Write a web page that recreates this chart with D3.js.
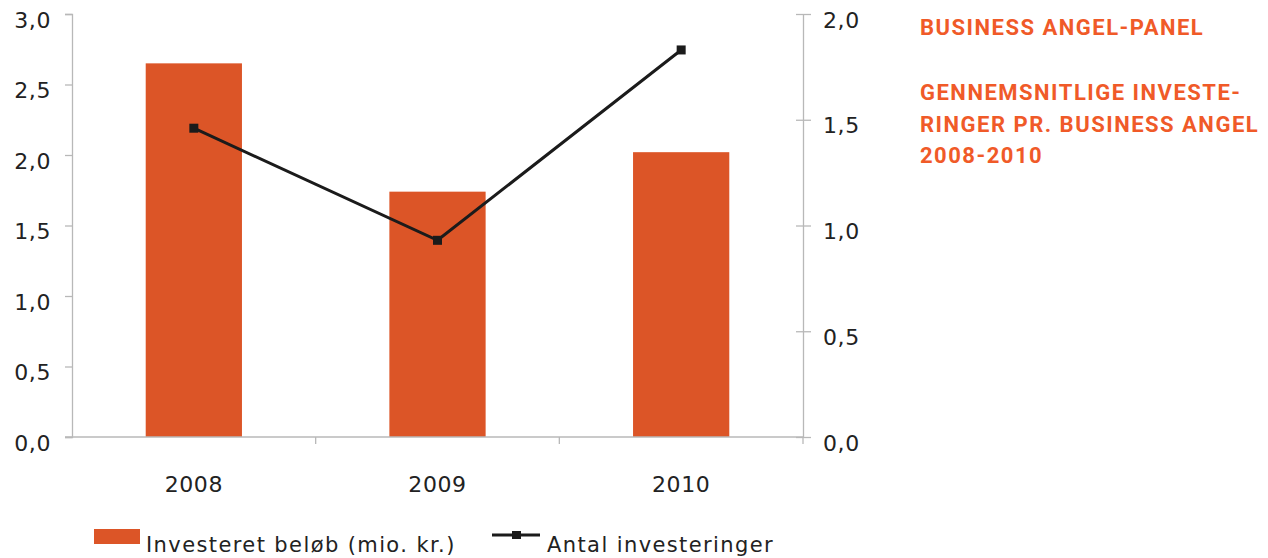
<!DOCTYPE html>
<html>
<head>
<meta charset="utf-8">
<script src="https://cdn.jsdelivr.net/npm/d3@7"></script>
<style>
  html, body { margin: 0; padding: 0; background: #fff; }
  svg { display: block; }
</style>
</head>
<body>
<svg id="chart" width="1268" height="558"></svg>
<script>
// Years on the x axis
const years = ["2008", "2009", "2010"];
// Invested amount per business angel (mio. kr.) – left axis
const invested = [2.65, 1.74, 2.02];
// Number of investments per business angel – right axis
const investments = [1.46, 0.93, 1.83];
// Tick values for both axes
const leftTicks = [0, 0.5, 1, 1.5, 2, 2.5, 3];
const rightTicks = [0, 0.5, 1, 1.5, 2];
// Legend labels and heading lines
const legendLabels = ["Investeret beløb (mio. kr.)", "Antal investeringer"];
const headingLines = ["BUSINESS ANGEL-PANEL", "", "GENNEMSNITLIGE INVESTE-", "RINGER PR. BUSINESS ANGEL", "2008-2010"];

const svg = d3.select("#chart");
const plot = { left: 72, right: 803, top: 14, bottom: 437 };
const barColor = "#dc5527";
const axisColor = "#b8b8b8";
const textColor = "#222";
const fmt = v => d3.format(".1f")(v).replace(".", ",");

const x = d3.scaleBand().domain(years).range([plot.left, plot.right]).padding(0);
const yL = d3.scaleLinear().domain([0, 3]).range([plot.bottom, plot.top]);
const yR = d3.scaleLinear().domain([0, 2]).range([plot.bottom, plot.top]);
const barW = x.bandwidth() * 0.395;

// Bars
svg.append("g").selectAll("rect").data(years).join("rect")
  .attr("x", d => x(d) + x.bandwidth() / 2 - barW / 2)
  .attr("y", (d, i) => yL(invested[i]))
  .attr("width", barW)
  .attr("height", (d, i) => yL(0) - yL(invested[i]))
  .attr("fill", barColor);

// Axes
function styleAxis(g) {
  g.selectAll(".domain").attr("stroke", axisColor).attr("stroke-width", 1.3);
  g.selectAll(".tick line").attr("stroke", axisColor).attr("stroke-width", 1.3);
  g.selectAll("text").attr("fill", textColor)
    .attr("font-family", "DejaVu Sans, Verdana, sans-serif").attr("font-size", 22)
    .attr("letter-spacing", 0.6);
}

svg.append("g").attr("transform", `translate(${plot.left},0)`)
  .call(d3.axisLeft(yL).tickValues(leftTicks).tickFormat(fmt).tickSize(7).tickSizeOuter(7).tickPadding(14))
  .call(styleAxis)
  .call(g => g.selectAll("text").attr("dy", "0.6em"));

svg.append("g").attr("transform", `translate(${plot.right},0)`)
  .call(d3.axisRight(yR).tickValues(rightTicks).tickFormat(fmt).tickSize(0).tickPadding(20))
  .call(styleAxis)
  .call(g => g.selectAll(".tick line").attr("x1", -7).attr("x2", 8))
  .call(g => g.selectAll("text").attr("dy", "0.6em"));

// x axis: ticks at the band boundaries
const xb = svg.append("g").attr("transform", `translate(0,${plot.bottom})`);
xb.append("line").attr("x1", plot.left - 7).attr("x2", plot.right)
  .attr("stroke", axisColor).attr("stroke-width", 1.3);
xb.selectAll("line.b").data(years.slice(1).concat([null])).join("line").attr("class", "b")
  .attr("x1", d => d ? x(d) : plot.right).attr("x2", d => d ? x(d) : plot.right)
  .attr("y1", 0).attr("y2", 7)
  .attr("stroke", axisColor).attr("stroke-width", 1.3);
xb.selectAll("text").data(years).join("text")
  .attr("x", d => x(d) + x.bandwidth() / 2)
  .attr("y", 55)
  .attr("text-anchor", "middle")
  .attr("fill", textColor)
  .attr("font-family", "DejaVu Sans, Verdana, sans-serif").attr("font-size", 22)
  .attr("letter-spacing", 0.6)
  .text(d => d);

// Line series on the right axis
const line = d3.line().x((d, i) => x(years[i]) + x.bandwidth() / 2).y(d => yR(d));
svg.append("path").datum(investments)
  .attr("d", line).attr("fill", "none").attr("stroke", "#1b1b1b").attr("stroke-width", 3);
svg.append("g").selectAll("rect").data(investments).join("rect")
  .attr("x", (d, i) => x(years[i]) + x.bandwidth() / 2 - 4.5)
  .attr("y", d => yR(d) - 4.5)
  .attr("width", 9).attr("height", 9).attr("fill", "#1b1b1b");

// Legend
const lg = svg.append("g");
lg.append("rect").attr("x", 94).attr("y", 529).attr("width", 46).attr("height", 15).attr("fill", barColor);
lg.append("text").attr("x", 146).attr("y", 552).text(legendLabels[0]);
lg.append("line").attr("x1", 492).attr("x2", 540).attr("y1", 535).attr("y2", 535)
  .attr("stroke", "#1b1b1b").attr("stroke-width", 3);
lg.append("rect").attr("x", 512).attr("y", 531).attr("width", 9).attr("height", 8).attr("fill", "#1b1b1b");
lg.append("text").attr("x", 547).attr("y", 552).text(legendLabels[1]);
lg.selectAll("text").attr("fill", textColor)
  .attr("font-family", "DejaVu Sans, Verdana, sans-serif").attr("font-size", 21)
  .attr("letter-spacing", 1.4);

// Heading on the right
svg.append("g").selectAll("text").data(headingLines).join("text")
  .attr("x", 920)
  .attr("y", (d, i) => [35, 0, 100, 132, 163][i])
  .attr("fill", "#f05a28")
  .attr("font-family", "Roboto, sans-serif").attr("font-weight", 700).attr("font-size", 22)
  .attr("letter-spacing", 1.5)
  .text(d => d);
</script>
</body>
</html>
